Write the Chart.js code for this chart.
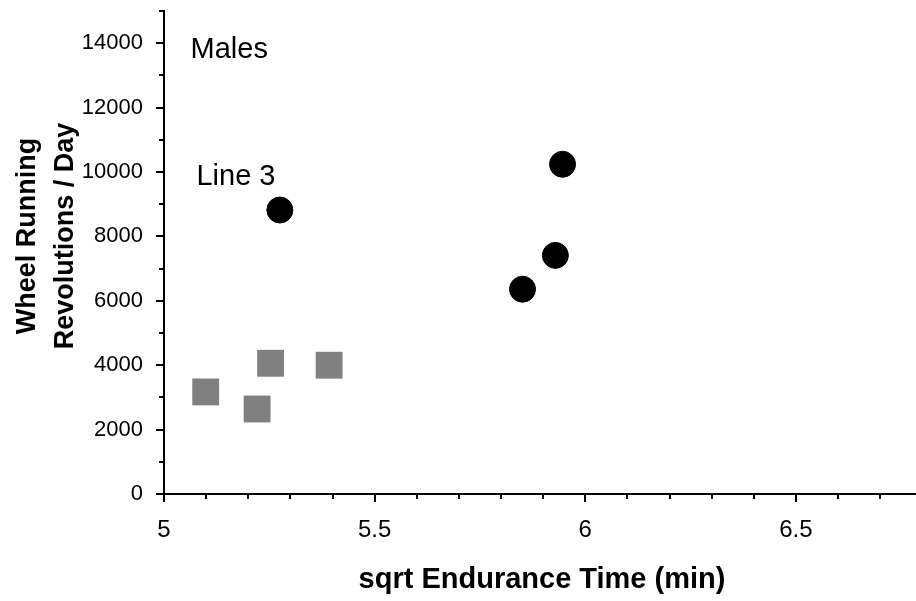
<!DOCTYPE html>
<html>
<head>
<meta charset="utf-8">
<script src="https://cdn.jsdelivr.net/npm/chart.js@4/dist/chart.umd.min.js"></script>
<style>
  html, body { margin: 0; padding: 0; background: #fff; }
  #wrap { width: 916px; height: 601px; }
</style>
</head>
<body>
<div id="wrap"><canvas id="chart" width="916" height="601"></canvas></div>
<script>
// circles (Line 3 + other selected lines) and grey squares (control lines)
const selectedX = [5.275, 5.946, 5.929, 5.851];
const selectedY = [8820, 10240, 7410, 6360];
const controlX = [5.099, 5.253, 5.221, 5.392];
const controlY = [3170, 4060, 2640, 4000];

const xMajor = [5, 5.5, 6, 6.5];
const xMinor = [5.1, 5.2, 5.3, 5.4, 5.6, 5.7, 5.8, 5.9, 6.1, 6.2, 6.3, 6.4, 6.6, 6.7];
const yMajor = [0, 2000, 4000, 6000, 8000, 10000, 12000, 14000];
const yMinor = [1000, 3000, 5000, 7000, 9000, 11000, 13000, 15000];

const noteText = ["Males", "Line 3"];
const noteX = [5.063, 5.077];
const noteY = [13530, 9600];

const xTitle = "sqrt Endurance Time (min)";
const yTitle = ["Wheel Running", "Revolutions / Day"];

const FONT = "'Liberation Sans', Arial, sans-serif";

function toPoints(xs, ys) {
  return xs.map((x, i) => ({ x, y: ys[i] }));
}

function tickList(major, minor) {
  return major.concat(minor).sort((a, b) => a - b).map((value) => ({ value }));
}

// keep the plot box where the reference has it, no label overflow padding
function noPadding(scale) {
  scale.paddingTop = 0;
  scale.paddingBottom = 0;
  scale.paddingLeft = 0;
  scale.paddingRight = 0;
}

const axisDecor = {
  id: "axisDecor",
  afterDraw(chart) {
    const { ctx, chartArea, scales } = chart;
    const x = scales.x;
    const y = scales.y;
    ctx.save();
    ctx.strokeStyle = "#000";
    ctx.lineWidth = 2;

    // tick marks, outside the axes
    ctx.beginPath();
    yMajor.concat(yMinor).forEach((v) => {
      const py = Math.round(y.getPixelForValue(v));
      const len = yMajor.includes(v) ? 8 : 5;
      ctx.moveTo(chartArea.left - len, py);
      ctx.lineTo(chartArea.left, py);
    });
    xMajor.concat(xMinor).forEach((v) => {
      const px = Math.round(x.getPixelForValue(v));
      const len = xMajor.includes(v) ? 8 : 5;
      ctx.moveTo(px, chartArea.bottom);
      ctx.lineTo(px, chartArea.bottom + len);
    });
    ctx.stroke();

    // notes inside the plot
    ctx.fillStyle = "#000";
    ctx.font = `29px ${FONT}`;
    ctx.textAlign = "left";
    ctx.textBaseline = "alphabetic";
    noteText.forEach((t, i) => {
      ctx.fillText(t, x.getPixelForValue(noteX[i]), y.getPixelForValue(noteY[i]));
    });

    // axis titles
    ctx.font = `bold 29px ${FONT}`;
    ctx.textAlign = "center";
    ctx.textBaseline = "middle";
    ctx.fillText(xTitle, 542, 580);

    ctx.font = `bold 27px ${FONT}`;
    ctx.textBaseline = "alphabetic";
    ctx.translate(0, 236);
    ctx.rotate(-Math.PI / 2);
    ctx.fillText(yTitle[0], 0, 35);
    ctx.fillText(yTitle[1], 0, 73);
    ctx.restore();
  },
};

new Chart(document.getElementById("chart"), {
  type: "scatter",
  data: {
    datasets: [
      {
        label: "Selected",
        data: toPoints(selectedX, selectedY),
        pointStyle: "circle",
        pointRadius: 13,
        backgroundColor: "#000",
        borderColor: "#000",
        borderWidth: 1,
      },
      {
        label: "Control",
        data: toPoints(controlX, controlY),
        pointStyle: "rect",
        pointRadius: 19,
        backgroundColor: "#808080",
        borderWidth: 0,
      },
    ],
  },
  options: {
    responsive: false,
    animation: false,
    layout: { autoPadding: false, padding: { top: 11, right: 0, left: 0, bottom: 0 } },
    plugins: {
      legend: { display: false },
      tooltip: { enabled: false },
    },
    scales: {
      x: {
        type: "linear",
        min: 5,
        max: 6.785,
        afterBuildTicks: (scale) => {
          scale.ticks = tickList(xMajor, xMinor);
        },
        afterFit: (scale) => {
          scale.height = 107;
          noPadding(scale);
        },
        grid: { drawOnChartArea: false, drawTicks: false },
        border: { display: true, color: "#000", width: 2 },
        ticks: {
          autoSkip: false,
          maxRotation: 0,
          padding: 22,
          color: "#000",
          font: { family: FONT, size: 24 },
          callback: (v) => (xMajor.includes(v) ? String(v) : ""),
        },
      },
      y: {
        type: "linear",
        min: 0,
        max: 15000,
        afterBuildTicks: (scale) => {
          scale.ticks = tickList(yMajor, yMinor);
        },
        afterFit: (scale) => {
          scale.width = 164;
          noPadding(scale);
        },
        grid: { drawOnChartArea: false, drawTicks: false },
        border: { display: true, color: "#000", width: 2 },
        ticks: {
          autoSkip: false,
          padding: 21,
          color: "#000",
          font: { family: FONT, size: 22 },
          callback: (v) => (yMajor.includes(v) ? String(v) : ""),
        },
      },
    },
  },
  plugins: [axisDecor],
});
</script>
</body>
</html>
